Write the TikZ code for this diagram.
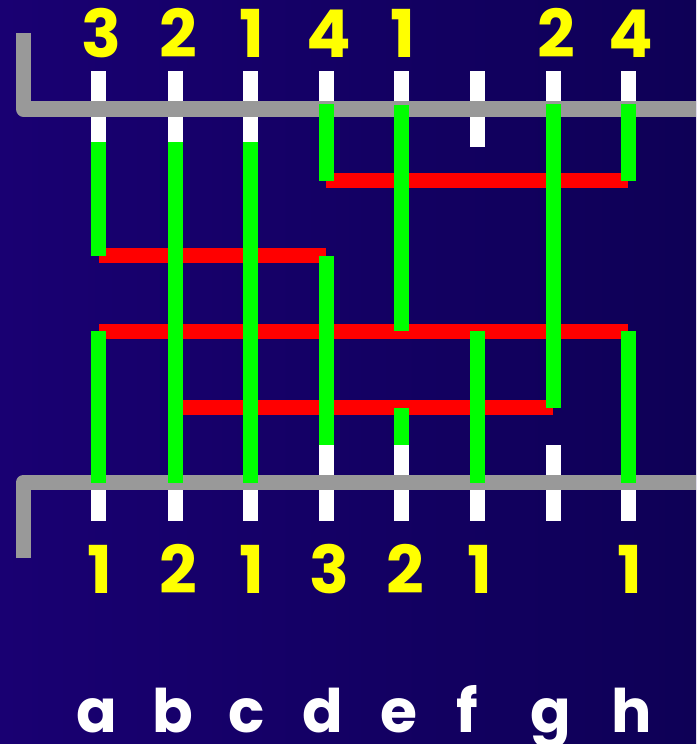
\documentclass[tikz,border=0pt]{standalone}
\usepackage{fontspec}
\newfontfamily\labfont{Poppins}
\begin{document}
\begin{tikzpicture}[x=1pt,y=-1pt,
  wbar/.style={fill=white,draw=none},
  gbar/.style={fill={rgb,255:red,0;green,255;blue,0},draw=none},
  rbar/.style={fill={rgb,255:red,255;green,0;blue,0},draw=none},
  rail/.style={draw={rgb,255:red,153;green,153;blue,153},line width=15.5pt,line join=round,line cap=butt},
  digit/.style={text={rgb,255:red,255;green,255;blue,0},font=\labfont\bfseries\fontsize{66}{66}\selectfont,anchor=base,inner sep=0pt},
  letter/.style={text=white,font=\labfont\bfseries\fontsize{60}{60}\selectfont,anchor=base,inner sep=0pt}]
\useasboundingbox (0,0) rectangle (696,744);
\shade[left color={rgb,255:red,25;green,0;blue,114},right color={rgb,255:red,14;green,0;blue,86}] (0,0) rectangle (696,744);
% white stubs
\foreach \x in {98.5,175,250.5,326,401.5,553,628}{
  \fill[wbar] (\x-7.5,71) rectangle (\x+7.5,142);
  \fill[wbar] (\x-7.5,445) rectangle (\x+7.5,521);
}
\fill[wbar] (469.5,71) rectangle (484.5,147);
\fill[wbar] (469.5,445) rectangle (484.5,521);
% rails
\coordinate (t0) at (23.5,33);
\coordinate (t1) at (23.5,109);
\coordinate (t2) at (696,109);
\draw[rail] (t0) -- (t1) -- (t2);
\coordinate (b0) at (23.5,558);
\coordinate (b1) at (23.5,482.5);
\coordinate (b2) at (696,482.5);
\draw[rail] (b0) -- (b1) -- (b2);
% red comparators
\fill[rbar] (326,173) rectangle (628,188);
\fill[rbar] (98.5,248) rectangle (326,263);
\fill[rbar] (98.5,323.5) rectangle (628,338.5);
\fill[rbar] (175,400) rectangle (553,415);
% green segments
\newcommand\gseg[3]{\fill[gbar] (#1-7.5,#2) rectangle (#1+7.5,#3);}
\gseg{98.5}{142}{255.5}
\gseg{98.5}{331}{483}
\gseg{175}{142}{483}
\gseg{250.5}{142}{483}
\gseg{326}{104}{180.5}
\gseg{326}{255.5}{445}
\gseg{401.5}{105}{331}
\gseg{401.5}{407.5}{445}
\gseg{477}{331}{483}
\gseg{553}{104}{407.5}
\gseg{628}{104}{180.5}
\gseg{628}{331}{483}
% top digits
\node[digit] (ta) at (101,57) {3};
\node[digit] (tb) at (178,57) {2};
\node[digit] (tc) at (252,57) {1};
\node[digit] (td) at (329,57) {4};
\node[digit] (te) at (403,57) {1};
\node[digit] (tg) at (556,57) {2};
\node[digit] (th) at (631,57) {4};
% bottom digits
\node[digit] (ba) at (100,593) {1};
\node[digit] (bb) at (178,593) {2};
\node[digit] (bc) at (252,593) {1};
\node[digit] (bd) at (329,593) {3};
\node[digit] (be) at (405,593) {2};
\node[digit] (bf) at (480,593) {1};
\node[digit] (bh) at (630,593) {1};
% letters
\node[letter] (la) at (97,732) {a};
\node[letter] (lb) at (173,732) {b};
\node[letter] (lc) at (247,732) {c};
\node[letter] (ld) at (323,732) {d};
\node[letter] (le) at (399,732) {e};
\node[letter] (lf) at (467,732) {f};
\node[letter] (lg) at (551,732) {g};
\node[letter] (lh) at (632,732) {h};
\end{tikzpicture}
\end{document}
